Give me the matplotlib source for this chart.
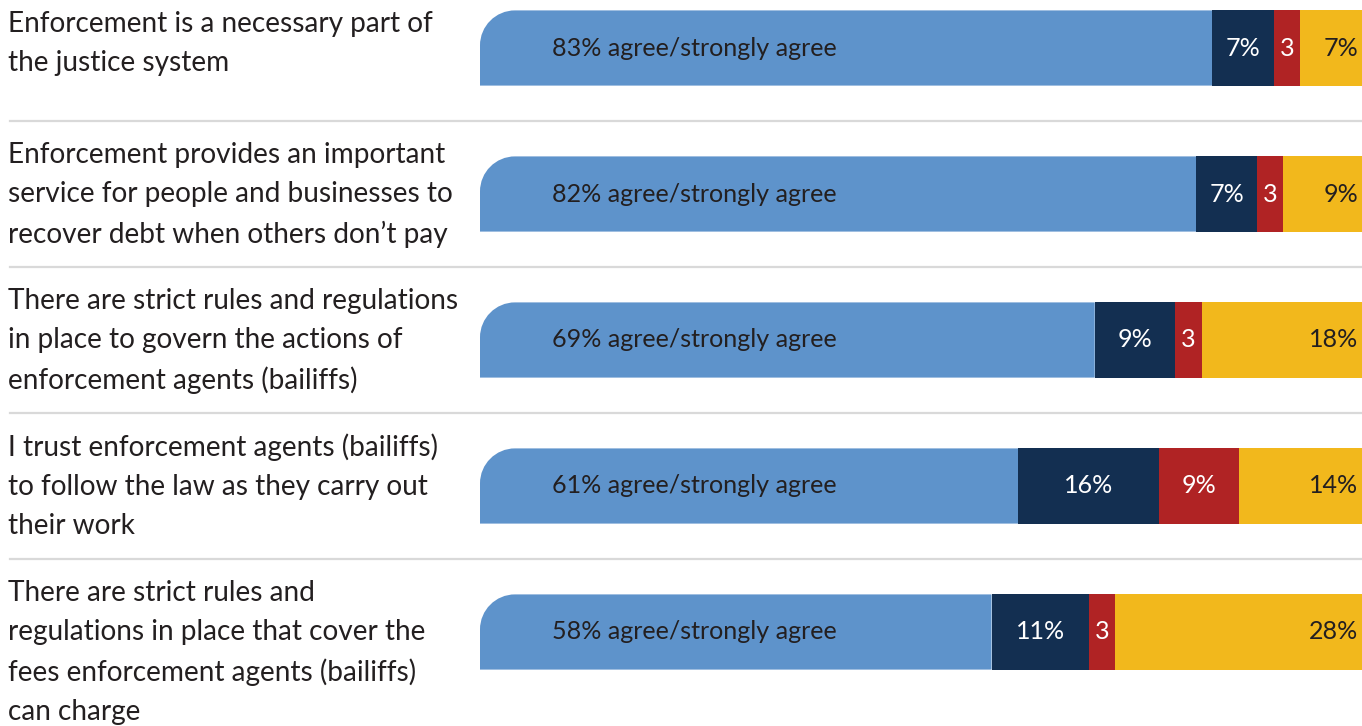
import numpy as np
import matplotlib
matplotlib.use("Agg")
import matplotlib.pyplot as plt
from matplotlib.path import Path
from matplotlib.lines import Line2D
import matplotlib.transforms as mtrans

statements = [
    "Enforcement is a necessary part of\nthe justice system",
    "Enforcement provides an important\nservice for people and businesses to\nrecover debt when others don\u2019t pay",
    "There are strict rules and regulations\nin place to govern the actions of\nenforcement agents (bailiffs)",
    "I trust enforcement agents (bailiffs)\nto follow the law as they carry out\ntheir work",
    "There are strict rules and\nregulations in place that cover the\nfees enforcement agents (bailiffs)\ncan charge",
]
agree = np.array([83, 82, 69, 61, 58])
neither = np.array([7, 7, 9, 16, 11])
disagree = np.array([3, 3, 3, 9, 3])
dont_know = np.array([7, 9, 18, 14, 28])

C_AGREE, C_NEITHER, C_DIS, C_DK = "#5e93cb", "#132f51", "#b02324", "#f2b81c"
TXT = "#231f20"
plt.rcParams["font.family"] = ["Lato", "DejaVu Sans"]

W, H, DPI = 1362, 726, 100
fig = plt.figure(figsize=(W / DPI, H / DPI), dpi=DPI)
ax = fig.add_axes([480 / W, 0, 882 / W, 1])
ax.set_axis_off()

# widths normalised so every row fills the full bar
tot = agree + neither + disagree + dont_know
segs = [agree, neither, disagree, dont_know]
norm = [s / tot * 100 for s in segs]
cols = [C_AGREE, C_NEITHER, C_DIS, C_DK]

y = np.arange(len(statements))
h = 0.515
row_px = 146.0
top_px = 48.0
ax.set_xlim(0, 100)
ax.set_ylim((H - top_px) / row_px, -top_px / row_px)

left = np.zeros(len(y))
bars = []
for vals, c in zip(norm, cols):
    bars.append(ax.barh(y, vals, left=left, height=h, color=c, linewidth=0))
    left = left + vals

# rounded top-left corner on the first segment
rad = 35
rx = rad / (882 / 100)
ry = rad / row_px
k = 0.5523
for i, patch in enumerate(bars[0]):
    yt, yb = y[i] - h / 2, y[i] + h / 2
    wv = norm[0][i]
    verts = [(0, yb), (0, yt + ry), (0, yt + ry * (1 - k)), (rx * (1 - k), yt), (rx, yt),
             (wv, yt), (wv, yb), (0, yb)]
    codes = [Path.MOVETO, Path.LINETO, Path.CURVE4, Path.CURVE4, Path.CURVE4,
             Path.LINETO, Path.LINETO, Path.CLOSEPOLY]
    patch.set_clip_path(Path(verts, codes), ax.transData)

fs = 18.1
for i in range(len(y)):
    ax.annotate(f"{agree[i]}% agree/strongly agree", xy=(0, y[i]), xytext=(72, 0),
                textcoords="offset pixels", ha="left", va="center", fontsize=fs, color=TXT)
    x0 = norm[0][i]
    ax.text(x0 + norm[1][i] / 2, y[i], f"{neither[i]}%", ha="center", va="center",
            fontsize=fs, color="white")
    x1 = x0 + norm[1][i]
    lab = f"{disagree[i]}%" if disagree[i] >= 5 else f"{disagree[i]}"
    ax.text(x1 + norm[2][i] / 2, y[i], lab, ha="center", va="center",
            fontsize=fs, color="white")
    ax.annotate(f"{dont_know[i]}%", xy=(100, y[i]), xytext=(-4, 0),
                textcoords="offset pixels", ha="right", va="center", fontsize=fs, color=TXT)

# statement labels (left column)
ytop_lim = -top_px / row_px
tr = mtrans.blended_transform_factory(fig.transFigure, ax.transData)
for i, s in enumerate(statements):
    ty = max(y[i] - h / 2 - 0.1, ytop_lim + 0.075)
    ax.text(8 / W, ty, s, transform=tr, ha="left", va="top", fontsize=20.2,
            color=TXT, linespacing=1.62, clip_on=False)

# separators
for i in range(len(y) - 1):
    fig.add_artist(Line2D([10 / W, 1], [y[i] + 0.5, y[i] + 0.5], transform=tr,
                          color="#d9d9d9", linewidth=1.6))

fig.savefig("out.png", dpi=DPI)
